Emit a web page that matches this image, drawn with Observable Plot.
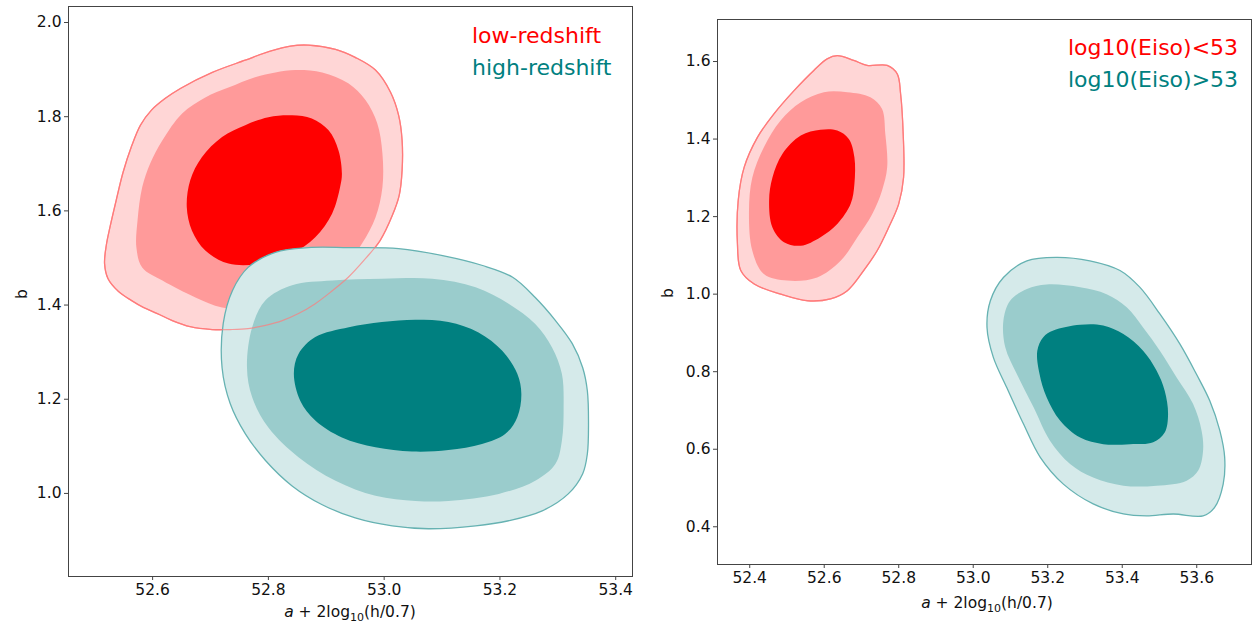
<!DOCTYPE html>
<html><head><meta charset="utf-8">
<script src="https://cdn.jsdelivr.net/npm/d3@7"></script>
<script src="https://cdn.jsdelivr.net/npm/@observablehq/plot@0.6"></script>
<style>
body{margin:0;background:#fff;width:1252px;height:625px;overflow:hidden;position:relative;font-family:"DejaVu Sans";}
.panel{position:absolute;top:0;}
</style></head><body>
<div id="left" class="panel" style="left:0px"></div>
<div id="right" class="panel" style="left:640px"></div>
<script>
// ---------- Tick labels ----------
const leftXTicks = [52.6, 52.8, 53.0, 53.2, 53.4];
const leftYTicks = [1.0, 1.2, 1.4, 1.6, 1.8, 2.0];
const rightXTicks = [52.4, 52.6, 52.8, 53.0, 53.2, 53.4, 53.6];
const rightYTicks = [0.4, 0.6, 0.8, 1.0, 1.2, 1.4, 1.6];
const leftXDomain = [52.4547, 53.429];
const leftYDomain = [0.8236, 2.034];
const rightXDomain = [52.3135, 53.747];
const rightYDomain = [0.3027, 1.7084];

// ---------- Series names ----------
const leftSeries = ["low-redshift", "high-redshift"];
const rightSeries = ["log10(Eiso)<53", "log10(Eiso)>53"];

// ---------- Left panel contours (x, b) ----------
const leftLowOuter = [[52.869,1.952],[52.916,1.943],[52.950,1.926],[52.985,1.899],[53.011,1.852],[53.025,1.803],[53.031,1.750],[53.031,1.686],[53.026,1.633],[53.014,1.590],[52.993,1.537],[52.968,1.499],[52.938,1.459],[52.907,1.427],[52.881,1.403],[52.852,1.382],[52.824,1.367],[52.795,1.357],[52.765,1.350],[52.734,1.348],[52.703,1.348],[52.665,1.354],[52.634,1.367],[52.608,1.382],[52.584,1.395],[52.563,1.410],[52.541,1.429],[52.523,1.456],[52.517,1.488],[52.520,1.527],[52.527,1.569],[52.537,1.622],[52.549,1.682],[52.563,1.735],[52.579,1.782],[52.598,1.814],[52.622,1.839],[52.648,1.860],[52.703,1.894],[52.760,1.920],[52.803,1.939],[52.838,1.950]];
const leftLowMid = [[52.847,1.899],[52.893,1.894],[52.938,1.871],[52.968,1.835],[52.988,1.786],[52.997,1.722],[52.997,1.650],[52.985,1.586],[52.962,1.531],[52.933,1.484],[52.890,1.442],[52.838,1.410],[52.777,1.395],[52.720,1.395],[52.674,1.416],[52.617,1.452],[52.582,1.480],[52.572,1.522],[52.574,1.580],[52.582,1.650],[52.596,1.701],[52.617,1.750],[52.651,1.807],[52.691,1.841],[52.731,1.862],[52.777,1.884],[52.812,1.894]];
const leftLowInner = [[52.841,1.803],[52.875,1.796],[52.904,1.771],[52.921,1.729],[52.927,1.679],[52.924,1.651],[52.910,1.594],[52.881,1.544],[52.841,1.509],[52.789,1.488],[52.731,1.488],[52.691,1.516],[52.668,1.558],[52.659,1.608],[52.665,1.665],[52.685,1.714],[52.720,1.757],[52.760,1.782],[52.800,1.799]];
const leftHighOuter = [[52.720,1.267],[52.722,1.361],[52.738,1.431],[52.765,1.480],[52.812,1.512],[52.869,1.522],[52.938,1.522],[53.025,1.520],[53.101,1.505],[53.170,1.484],[53.222,1.459],[53.261,1.416],[53.296,1.367],[53.325,1.318],[53.343,1.267],[53.351,1.218],[53.353,1.148],[53.351,1.084],[53.343,1.042],[53.318,0.999],[53.273,0.963],[53.215,0.942],[53.158,0.931],[53.076,0.925],[53.014,0.931],[52.950,0.948],[52.893,0.976],[52.841,1.016],[52.795,1.070],[52.760,1.127],[52.734,1.191]];
const leftHighMid = [[52.763,1.268],[52.772,1.353],[52.795,1.410],[52.841,1.442],[52.910,1.452],[52.996,1.456],[53.083,1.456],[53.158,1.438],[53.215,1.403],[53.261,1.360],[53.290,1.310],[53.307,1.254],[53.310,1.183],[53.307,1.112],[53.296,1.063],[53.261,1.027],[53.198,0.999],[53.111,0.984],[53.054,0.984],[52.985,0.995],[52.916,1.027],[52.852,1.077],[52.800,1.140],[52.772,1.204]];
const leftHighInner = [[52.844,1.254],[52.852,1.296],[52.881,1.332],[52.939,1.353],[52.996,1.364],[53.054,1.369],[53.111,1.364],[53.163,1.342],[53.204,1.303],[53.230,1.254],[53.237,1.211],[53.230,1.162],[53.209,1.126],[53.169,1.105],[53.111,1.092],[53.048,1.089],[52.985,1.098],[52.927,1.119],[52.881,1.155],[52.855,1.197]];

// ---------- Right panel contours (x, b) ----------
const rightLowOuter = [[52.635,1.615],[52.679,1.603],[52.715,1.590],[52.769,1.590],[52.796,1.568],[52.805,1.517],[52.812,1.413],[52.813,1.301],[52.800,1.233],[52.773,1.172],[52.742,1.112],[52.706,1.061],[52.662,1.009],[52.617,0.988],[52.555,0.983],[52.483,1.000],[52.412,1.026],[52.376,1.061],[52.367,1.130],[52.369,1.241],[52.385,1.327],[52.421,1.405],[52.465,1.465],[52.519,1.525],[52.572,1.577],[52.608,1.607]];
const rightLowMid = [[52.599,1.521],[52.662,1.521],[52.724,1.508],[52.755,1.478],[52.764,1.413],[52.769,1.327],[52.755,1.267],[52.729,1.207],[52.689,1.147],[52.644,1.086],[52.581,1.043],[52.501,1.035],[52.438,1.052],[52.407,1.112],[52.398,1.215],[52.407,1.301],[52.438,1.379],[52.483,1.448],[52.537,1.495]];
const rightLowInner = [[52.590,1.424],[52.635,1.422],[52.666,1.400],[52.681,1.353],[52.681,1.284],[52.671,1.233],[52.635,1.181],[52.590,1.147],[52.537,1.125],[52.492,1.134],[52.461,1.172],[52.452,1.241],[52.461,1.301],[52.488,1.362],[52.537,1.409]];
const rightHighOuter = [[53.144,1.086],[53.224,1.095],[53.313,1.086],[53.394,1.061],[53.447,1.018],[53.501,0.949],[53.555,0.871],[53.599,0.794],[53.635,0.725],[53.662,0.648],[53.675,0.579],[53.671,0.510],[53.648,0.450],[53.617,0.428],[53.537,0.433],[53.465,0.428],[53.403,0.433],[53.322,0.459],[53.242,0.510],[53.180,0.579],[53.135,0.665],[53.090,0.759],[53.054,0.837],[53.037,0.914],[53.046,0.983],[53.081,1.043]];
const rightHighMid = [[53.144,1.013],[53.197,1.025],[53.287,1.018],[53.358,1.000],[53.412,0.966],[53.456,0.914],[53.501,0.854],[53.546,0.785],[53.590,0.717],[53.613,0.648],[53.617,0.596],[53.604,0.545],[53.573,0.519],[53.492,0.506],[53.403,0.506],[53.322,0.527],[53.260,0.562],[53.206,0.622],[53.162,0.708],[53.117,0.794],[53.086,0.863],[53.081,0.932],[53.099,0.983]];
const rightHighInner = [[53.215,0.906],[53.287,0.921],[53.349,0.919],[53.403,0.897],[53.456,0.854],[53.492,0.803],[53.514,0.751],[53.523,0.691],[53.514,0.643],[53.483,0.618],[53.421,0.613],[53.349,0.613],[53.287,0.630],[53.233,0.674],[53.197,0.734],[53.178,0.794],[53.172,0.854],[53.188,0.889]];

// ---------- Styles ----------
const RED = {outer: "#ffd6d6", mid: "#ff9a9a", inner: "#ff0000", line: "#ff7b7b", text: "#ff0000"};
const TEAL = {outer: "#d5eaea", mid: "#9acccc", inner: "#008080", line: "#66b2b2", text: "#008080"};
const CURVE = "catmull-rom-closed";

function blob(data, fill, stroke) {
  return Plot.line(data, {x: d => d[0], y: d => d[1], fill, stroke: stroke || "none",
    strokeWidth: 1.3, curve: CURVE});
}

function panel(cfg) {
  const svg = Plot.plot({
    width: cfg.width, height: 625,
    marginLeft: cfg.ml, marginRight: cfg.mr, marginTop: cfg.mt, marginBottom: cfg.mb,
    style: {fontFamily: "DejaVu Sans", fontSize: "15.5px", color: "#111", background: "#fff"},
    x: {domain: cfg.xDomain},
    y: {domain: cfg.yDomain},
    marks: [
      blob(cfg.low[0], RED.outer, RED.line),
      blob(cfg.low[1], RED.mid),
      blob(cfg.low[2], RED.inner),
      blob(cfg.high[0], TEAL.outer, TEAL.line),
      blob(cfg.high[1], TEAL.mid),
      blob(cfg.high[2], TEAL.inner),
      Plot.line(cfg.low[0], {x: d => d[0], y: d => d[1], stroke: RED.line, strokeOpacity: 0.7, strokeWidth: 1.2, curve: CURVE}),
      Plot.frame({stroke: "#444", strokeWidth: 1}),
      Plot.axisX({ticks: cfg.xTicks, tickFormat: d3.format(".1f"), tickSize: 4, tickPadding: 3, label: null, stroke: "#444"}),
      Plot.axisY({ticks: cfg.yTicks, tickFormat: d3.format(".1f"), tickSize: 4, tickPadding: 3, label: null, stroke: "#444"})
    ]
  });
  const s = d3.select(svg);
  // y label
  s.append("text").attr("transform", `translate(${cfg.bx},${cfg.by}) rotate(-90)`)
    .attr("text-anchor", "middle").style("font-size", "15.5px").attr("fill", "#111").text("b");
  // x label with math
  const t = s.append("text").attr("x", cfg.lx).attr("y", cfg.ly).attr("text-anchor", "middle")
    .style("font-size", "15.5px").attr("fill", "#111");
  t.append("tspan").style("font-style", "italic").text("a");
  t.append("tspan").text(" + 2log");
  t.append("tspan").attr("dy", 3.5).style("font-size", "11px").text("10");
  t.append("tspan").attr("dy", -3.5).text("(h/0.7)");
  // legend texts
  s.append("text").attr("x", cfg.tx).attr("y", cfg.ty[0]).attr("text-anchor", "start")
    .style("font-size", cfg.tfs).attr("fill", RED.text).text(cfg.names[0]);
  s.append("text").attr("x", cfg.tx).attr("y", cfg.ty[1]).attr("text-anchor", "start")
    .style("font-size", cfg.tfs).attr("fill", TEAL.text).text(cfg.names[1]);
  return svg;
}

document.getElementById("left").appendChild(panel({
  width: 640, ml: 68, mr: 8, mt: 6, mb: 49,
  xDomain: leftXDomain, yDomain: leftYDomain, xTicks: leftXTicks, yTicks: leftYTicks,
  low: [leftLowOuter, leftLowMid, leftLowInner], high: [leftHighOuter, leftHighMid, leftHighInner],
  bx: 27, by: 294, lx: 350, ly: 617, tx: 472, ty: [43, 74.5], tfs: "22px", names: leftSeries
}));
document.getElementById("right").appendChild(panel({
  width: 612, ml: 77, mr: 1, mt: 19, mb: 61,
  xDomain: rightXDomain, yDomain: rightYDomain, xTicks: rightXTicks, yTicks: rightYTicks,
  low: [rightLowOuter, rightLowMid, rightLowInner], high: [rightHighOuter, rightHighMid, rightHighInner],
  bx: 33, by: 293, lx: 347, ly: 608, tx: 428, ty: [55, 87], tfs: "22px", names: rightSeries
}));
</script>
</body></html>
